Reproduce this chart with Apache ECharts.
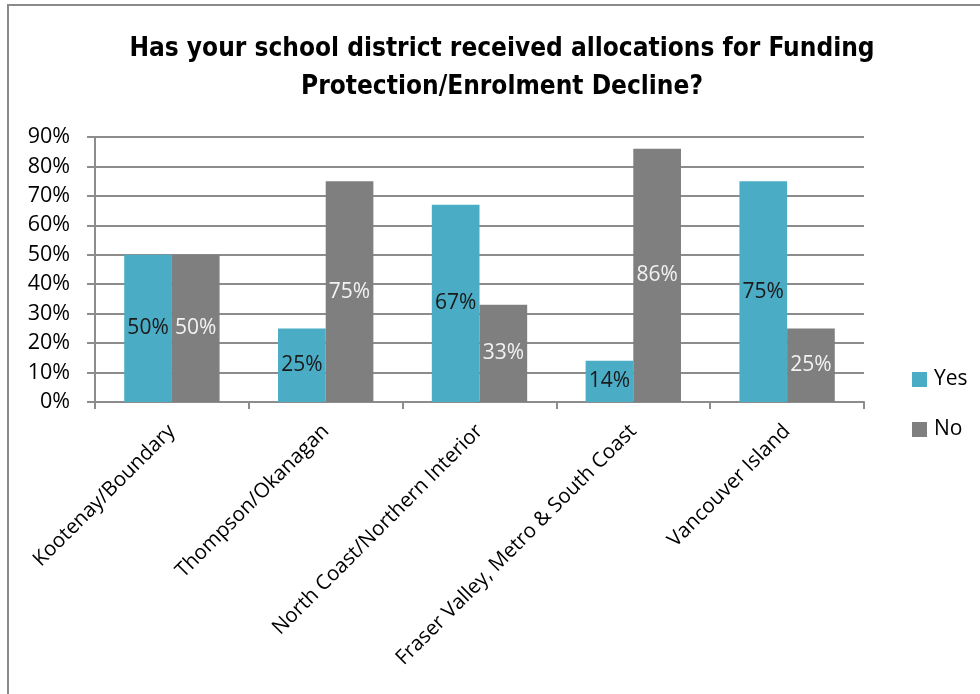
<!DOCTYPE html>
<html>
<head>
<meta charset="utf-8">
<style>
  html, body { margin: 0; padding: 0; background: #fff; }
  #chart { width: 980px; height: 694px; }
</style>
<script src="https://cdn.jsdelivr.net/npm/echarts@6/dist/echarts.min.js"></script>
</head>
<body>
<div id="chart"></div>
<script>
// Regions surveyed
const regions = [
  'Kootenay/Boundary',
  'Thompson/Okanagan',
  'North Coast/Northern Interior',
  'Fraser Valley, Metro & South Coast',
  'Vancouver Island'
];
// Share of responses (%)
const yesValues = [50, 25, 67, 14, 75];
const noValues = [50, 75, 33, 86, 25];

const chartTitle = 'Has your school district received allocations for Funding\nProtection/Enrolment Decline?';
const baseFont = "'Open Sans', 'Noto Sans', sans-serif";
const gridColor = '#8c8c8c';

const chart = echarts.init(document.getElementById('chart'));

chart.setOption({
  backgroundColor: '#ffffff',
  animation: false,
  title: {
    text: chartTitle,
    left: 497,
    top: 25,
    textAlign: 'center',
    textStyle: {
      fontFamily: "'Liberation Sans Narrow', 'DejaVu Sans Condensed', sans-serif",
      fontWeight: 'bold',
      fontSize: 26,
      lineHeight: 38,
      color: '#000'
    }
  },
  legend: {
    orient: 'vertical',
    left: 907,
    top: 364,
    itemWidth: 15,
    itemHeight: 15,
    itemGap: 29,
    icon: 'rect',
    textStyle: { fontFamily: baseFont, fontSize: 21, color: '#000', padding: [0, 0, 0, 2] },
    data: ['Yes', 'No']
  },
  grid: {
    left: 95,
    right: 116,
    top: 137,
    bottom: 292,
    containLabel: false
  },
  xAxis: {
    type: 'category',
    data: regions,
    boundaryGap: true,
    axisLine: { lineStyle: { color: gridColor, width: 2 } },
    axisTick: { show: true, alignWithLabel: false, length: 7, lineStyle: { color: gridColor, width: 2 } },
    axisLabel: {
      rotate: 45,
      interval: 0,
      margin: 26,
      fontFamily: baseFont,
      fontSize: 20.5,
      color: '#000'
    }
  },
  yAxis: {
    type: 'value',
    min: 0,
    max: 90,
    interval: 10,
    axisLine: { show: true, lineStyle: { color: gridColor, width: 2 } },
    axisTick: { show: true, length: 8, lineStyle: { color: gridColor, width: 2 } },
    splitLine: { lineStyle: { color: gridColor, width: 2 } },
    axisLabel: {
      formatter: '{value}%',
      margin: 25,
      fontFamily: baseFont,
      fontSize: 21.5,
      color: '#000'
    }
  },
  series: [
    {
      name: 'Yes',
      type: 'bar',
      data: yesValues,
      barGap: '0%',
      barCategoryGap: '38%',
      itemStyle: { color: '#4BACC6' },
      label: {
        show: true,
        position: 'inside',
        formatter: '{c}%',
        fontFamily: baseFont,
        fontSize: 21,
        color: '#1a1a1a'
      }
    },
    {
      name: 'No',
      type: 'bar',
      data: noValues,
      itemStyle: { color: '#7F7F7F' },
      label: {
        show: true,
        position: 'inside',
        formatter: '{c}%',
        fontFamily: baseFont,
        fontSize: 21,
        color: '#f2f2f2'
      }
    }
  ],
  graphic: [
    {
      type: 'rect',
      shape: { x: 8, y: 5, width: 1100, height: 1100 },
      style: { fill: 'none', stroke: '#8a8a8a', lineWidth: 2 },
      silent: true
    }
  ]
});
</script>
</body>
</html>
